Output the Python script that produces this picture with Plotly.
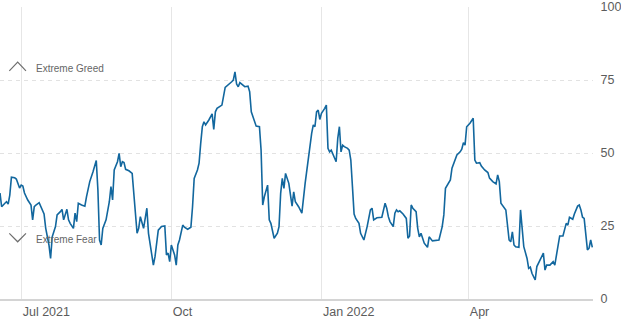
import plotly.graph_objects as go

# Fear & Greed index readings, Jun 2021 - Jun 2022
dates = [
    "2021-06-18", "2021-06-19", "2021-06-21", "2021-06-22", "2021-06-23", "2021-06-24", "2021-06-25", "2021-06-27", "2021-06-28", "2021-06-30",
    "2021-07-01", "2021-07-02", "2021-07-03", "2021-07-05", "2021-07-07", "2021-07-08", "2021-07-09", "2021-07-10", "2021-07-12", "2021-07-14",
    "2021-07-15", "2021-07-16", "2021-07-18", "2021-07-19", "2021-07-20", "2021-07-22", "2021-07-23", "2021-07-25", "2021-07-26", "2021-07-27",
    "2021-07-29", "2021-07-30", "2021-07-31", "2021-08-02", "2021-08-03", "2021-08-04", "2021-08-05", "2021-08-07", "2021-08-09", "2021-08-10",
    "2021-08-12", "2021-08-14", "2021-08-16", "2021-08-17", "2021-08-18", "2021-08-19", "2021-08-20", "2021-08-22", "2021-08-24", "2021-08-25",
    "2021-08-26", "2021-08-27", "2021-08-29", "2021-08-30", "2021-08-31", "2021-09-01", "2021-09-02", "2021-09-03", "2021-09-05", "2021-09-07",
    "2021-09-08", "2021-09-10", "2021-09-11", "2021-09-12", "2021-09-14", "2021-09-16", "2021-09-17", "2021-09-19", "2021-09-20", "2021-09-21",
    "2021-09-22", "2021-09-23", "2021-09-25", "2021-09-27", "2021-09-28", "2021-09-29", "2021-09-30", "2021-10-01", "2021-10-03", "2021-10-04",
    "2021-10-05", "2021-10-06", "2021-10-08", "2021-10-09", "2021-10-11", "2021-10-13", "2021-10-14", "2021-10-15", "2021-10-17", "2021-10-18",
    "2021-10-19", "2021-10-20", "2021-10-21", "2021-10-22", "2021-10-24", "2021-10-26", "2021-10-27", "2021-10-28", "2021-10-29", "2021-11-01",
    "2021-11-03", "2021-11-04", "2021-11-06", "2021-11-07", "2021-11-08", "2021-11-09", "2021-11-10", "2021-11-11", "2021-11-12", "2021-11-14",
    "2021-11-15", "2021-11-17", "2021-11-18", "2021-11-19", "2021-11-21", "2021-11-22", "2021-11-24", "2021-11-25", "2021-11-26", "2021-11-27",
    "2021-11-29", "2021-11-30", "2021-12-01", "2021-12-03", "2021-12-05", "2021-12-06", "2021-12-07", "2021-12-08", "2021-12-09", "2021-12-10",
    "2021-12-12", "2021-12-13", "2021-12-14", "2021-12-15", "2021-12-16", "2021-12-18", "2021-12-20", "2021-12-22", "2021-12-24", "2021-12-26",
    "2021-12-27", "2021-12-28", "2021-12-29", "2021-12-30", "2021-12-31", "2022-01-01", "2022-01-03", "2022-01-04", "2022-01-05", "2022-01-06",
    "2022-01-07", "2022-01-09", "2022-01-10", "2022-01-11", "2022-01-12", "2022-01-13", "2022-01-14", "2022-01-15", "2022-01-17", "2022-01-18",
    "2022-01-19", "2022-01-20", "2022-01-21", "2022-01-22", "2022-01-24", "2022-01-25", "2022-01-27", "2022-01-29", "2022-01-30", "2022-01-31",
    "2022-02-01", "2022-02-02", "2022-02-04", "2022-02-07", "2022-02-09", "2022-02-10", "2022-02-11", "2022-02-12", "2022-02-14", "2022-02-15",
    "2022-02-16", "2022-02-17", "2022-02-18", "2022-02-20", "2022-02-22", "2022-02-23", "2022-02-24", "2022-02-25", "2022-02-26", "2022-02-28",
    "2022-03-01", "2022-03-02", "2022-03-03", "2022-03-04", "2022-03-05", "2022-03-07", "2022-03-08", "2022-03-10", "2022-03-13", "2022-03-14",
    "2022-03-16", "2022-03-17", "2022-03-18", "2022-03-20", "2022-03-21", "2022-03-22", "2022-03-23", "2022-03-25", "2022-03-27", "2022-03-28",
    "2022-03-29", "2022-03-30", "2022-03-31", "2022-04-02", "2022-04-04", "2022-04-05", "2022-04-06", "2022-04-08", "2022-04-09", "2022-04-11",
    "2022-04-13", "2022-04-14", "2022-04-16", "2022-04-18", "2022-04-19", "2022-04-20", "2022-04-21", "2022-04-23", "2022-04-24", "2022-04-26",
    "2022-04-27", "2022-04-28", "2022-04-29", "2022-04-30", "2022-05-02", "2022-05-03", "2022-05-04", "2022-05-05", "2022-05-07", "2022-05-08",
    "2022-05-09", "2022-05-10", "2022-05-12", "2022-05-13", "2022-05-15", "2022-05-17", "2022-05-18", "2022-05-19", "2022-05-21", "2022-05-23",
    "2022-05-24", "2022-05-25", "2022-05-27", "2022-05-29", "2022-05-31", "2022-06-01", "2022-06-02", "2022-06-04", "2022-06-05", "2022-06-07",
    "2022-06-08", "2022-06-09", "2022-06-10", "2022-06-11", "2022-06-13", "2022-06-14", "2022-06-15", "2022-06-16",
]

scores = [
    36.3, 31.6, 32.8, 33.3, 32.5, 35.6, 41.7, 41.5, 41.1, 38.0,
    39.0, 38.7, 36.3, 33.9, 32.2, 27.1, 31.6, 32.2, 33.0, 29.9,
    29.1, 24.3, 18.5, 13.9, 21.3, 24.8, 28.8, 29.9, 30.7, 27.1,
    30.7, 27.1, 25.9, 24.2, 29.4, 26.5, 32.8, 32.2, 31.8, 35.0,
    40.2, 43.6, 47.4, 37.3, 20.2, 18.5, 24.2, 27.1, 33.3, 38.5,
    33.9, 44.2, 47.0, 49.9, 45.3, 47.0, 46.7, 44.4, 43.9, 43.0,
    36.2, 22.5, 24.2, 28.2, 24.2, 31.1, 22.5, 15.7, 11.6, 14.5,
    20.2, 23.6, 24.8, 25.0, 15.1, 15.7, 12.8, 18.5, 15.1, 11.6,
    18.5, 20.2, 25.3, 24.6, 23.9, 24.6, 31.6, 41.3, 44.2, 46.5,
    53.3, 59.0, 60.7, 59.6, 61.3, 63.4, 58.1, 64.1, 65.3, 66.4,
    72.5, 72.9, 73.9, 74.4, 75.0, 77.8, 73.6, 72.7, 74.1, 73.3,
    72.7, 72.9, 71.0, 64.1, 60.7, 59.2, 59.0, 51.0, 32.2, 35.0,
    39.0, 27.1, 25.9, 20.8, 22.5, 24.8, 36.2, 41.3, 37.9, 43.0,
    39.6, 35.0, 31.8, 36.7, 33.3, 31.6, 29.4, 39.6, 48.7, 56.7,
    59.6, 59.0, 64.1, 64.7, 61.5, 63.6, 65.3, 66.4, 51.6, 50.4,
    51.0, 48.7, 47.0, 55.0, 59.0, 50.4, 52.7, 52.2, 51.6, 51.0,
    47.6, 38.5, 29.1, 27.6, 25.9, 22.5, 20.2, 24.8, 27.6, 30.5,
    31.1, 27.1, 27.8, 28.0, 32.8, 31.1, 28.2, 26.5, 24.8, 29.4,
    30.5, 29.9, 30.2, 29.1, 27.6, 20.8, 21.6, 32.2, 31.1, 29.9,
    24.2, 21.3, 22.5, 20.8, 19.1, 17.7, 21.3, 19.9, 20.0, 20.2,
    24.8, 28.8, 37.9, 39.6, 40.8, 44.8, 46.5, 49.3, 50.4, 51.3,
    53.5, 52.7, 59.0, 60.2, 61.9, 47.6, 46.5, 46.7, 45.5, 44.2,
    43.3, 41.4, 40.2, 39.4, 42.5, 40.2, 32.8, 31.3, 30.5, 20.2,
    19.6, 23.0, 18.5, 17.9, 17.7, 30.5, 24.8, 17.9, 13.9, 10.5,
    10.9, 8.8, 6.5, 11.1, 13.4, 15.7, 9.9, 11.6, 11.6, 12.8,
    11.6, 14.5, 21.6, 21.6, 25.9, 25.3, 28.0, 27.3, 29.1, 31.8,
    32.2, 30.5, 28.0, 27.6, 16.8, 17.4, 20.2, 17.7,
]

x_tick_dates = ["2021-07-01", "2021-10-01", "2022-01-01", "2022-04-01"]
x_tick_labels = ["Jul 2021", "Oct", "Jan 2022", "Apr"]
y_ticks = [0, 25, 50, 75, 100]

LINE_COLOR = "#12679e"
TEXT_COLOR = "#5c5c5c"
FONT = "Liberation Sans, Arial, sans-serif"

fig = go.Figure()
fig.add_trace(go.Scatter(
    x=dates, y=scores, mode="lines",
    line=dict(color=LINE_COLOR, width=1.6),
    hoverinfo="x+y",
))

# zone markers: chevron + caption
zones = [
    ("Extreme Greed", 78.9, "M 0.0157,78.1 L 0.0298,81.1 L 0.0438,78.1"),
    ("Extreme Fear", 20.3, "M 0.0157,22.5 L 0.0298,19.6 L 0.0438,22.5"),
]
for label, yv, chevron in zones:
    fig.add_shape(type="path", xref="paper", yref="y", path=chevron,
                  line=dict(color="#6e6e6e", width=1.2), layer="above")
    fig.add_annotation(x=0.0573, y=yv, xref="paper", yref="y", text=label,
                       showarrow=False, xanchor="left", yanchor="middle",
                       font=dict(family=FONT, size=10, color="#666666"))

fig.update_layout(
    width=621, height=335,
    margin=dict(l=0, r=28, t=7, b=36),
    paper_bgcolor="white", plot_bgcolor="white",
    showlegend=False,
    font=dict(family=FONT, color=TEXT_COLOR),
    xaxis=dict(
        type="date",
        range=["2021-06-18", "2022-06-16 10:00"],
        tickvals=x_tick_dates, ticktext=x_tick_labels,
        ticklabelposition="outside right",
        ticks="outside", ticklen=7, tickcolor="rgba(0,0,0,0)",
        tickfont=dict(size=12.5, color=TEXT_COLOR),
        showgrid=True, gridcolor="#e6e6e6", gridwidth=1,
        showline=True, linecolor="#d4d4d4", linewidth=2,
        zeroline=False, fixedrange=True,
    ),
    yaxis=dict(
        range=[0, 100], side="right",
        tickvals=y_ticks,
        ticks="outside", ticklen=4, tickcolor="rgba(0,0,0,0)",
        tickfont=dict(size=12.5, color=TEXT_COLOR),
        showgrid=True, gridcolor="#e2e2e2", gridwidth=1, griddash="4px,4px",
        zeroline=False, showline=False, fixedrange=True,
    ),
)

fig.write_html("out.html")
